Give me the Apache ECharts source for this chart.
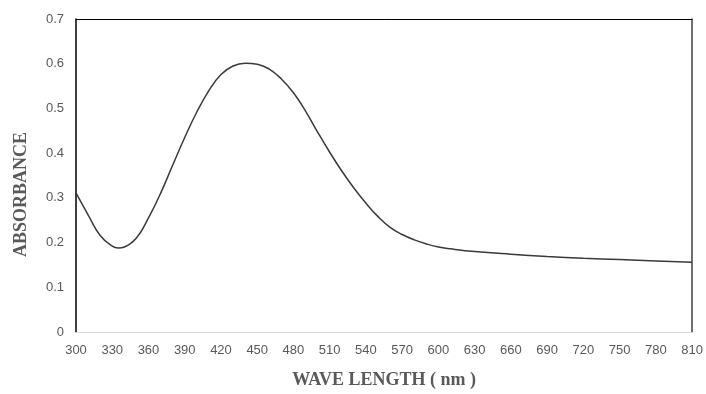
<!DOCTYPE html>
<html>
<head>
<meta charset="utf-8">
<script src="https://cdn.jsdelivr.net/npm/echarts@6/dist/echarts.min.js"></script>
<style>html,body{margin:0;padding:0;background:#fff}#c{width:706px;height:394px}</style>
</head>
<body>
<div id="c"></div>
<script>
var wavelengths = [300,310,320,330,335,340,350,360,370,380,390,400,410,420,430,440,450,460,470,480,490,500,510,520,530,540,550,560,570,580,590,600,610,630,660,690,720,750,780,810];
var absorbance  = [0.311,0.262,0.216,0.192,0.188,0.190,0.210,0.255,0.310,0.373,0.435,0.492,0.540,0.576,0.595,0.601,0.599,0.588,0.566,0.535,0.494,0.447,0.402,0.360,0.322,0.288,0.258,0.234,0.218,0.206,0.197,0.190,0.186,0.180,0.174,0.169,0.165,0.162,0.159,0.156];
var xTitle = 'WAVE LENGTH ( nm )';
var yTitle = 'ABSORBANCE';

var chart = echarts.init(document.getElementById('c'), null, {renderer: 'canvas'});
var labelStyle = {color: '#595959', fontSize: 13, fontFamily: 'Liberation Sans, Arial, sans-serif'};
var titleStyle = {color: '#595959', fontSize: 18, fontWeight: 'bold', fontFamily: 'Liberation Serif, Times New Roman, serif'};
chart.setOption({
  animation: false,
  grid: {left: 76, right: 9, top: 19, bottom: 60},
  xAxis: [{
    type: 'value', min: 300, max: 810, interval: 30,
    axisLine: {show: true, lineStyle: {color: '#d9d9d9', width: 1}},
    axisTick: {show: false},
    splitLine: {show: false},
    axisLabel: Object.assign({margin: 12}, labelStyle),
    name: xTitle, nameLocation: 'middle', nameGap: 39,
    nameTextStyle: titleStyle
  }, {
    type: 'value', position: 'top', min: 300, max: 810,
    axisLine: {show: true, onZero: false, lineStyle: {color: '#000', width: 1}},
    axisTick: {show: false}, axisLabel: {show: false}, splitLine: {show: false}
  }],
  yAxis: [{
    type: 'value', min: 0, max: 0.7, interval: 0.1,
    axisLine: {show: true, onZero: false, lineStyle: {color: '#000', width: 1.5}},
    axisTick: {show: false},
    splitLine: {show: false},
    axisLabel: Object.assign({margin: 12}, labelStyle)
  }, {
    type: 'value', position: 'right', min: 0, max: 0.7,
    axisLine: {show: true, onZero: false, lineStyle: {color: '#404040', width: 1.5}},
    axisTick: {show: false}, axisLabel: {show: false}, splitLine: {show: false}
  }],
  graphic: [{
    type: 'text', left: 12, top: 132, rotation: Math.PI / 2,
    style: {text: yTitle, fill: '#595959', font: 'bold 18px "Liberation Serif", serif'}
  }],
  series: [{
    type: 'line', xAxisIndex: 0, yAxisIndex: 0,
    data: wavelengths.map(function (w, i) { return [w, absorbance[i]]; }),
    smooth: 0.45, showSymbol: false,
    lineStyle: {color: '#3a3a3a', width: 1.5}
  }]
});
</script>
</body>
</html>
